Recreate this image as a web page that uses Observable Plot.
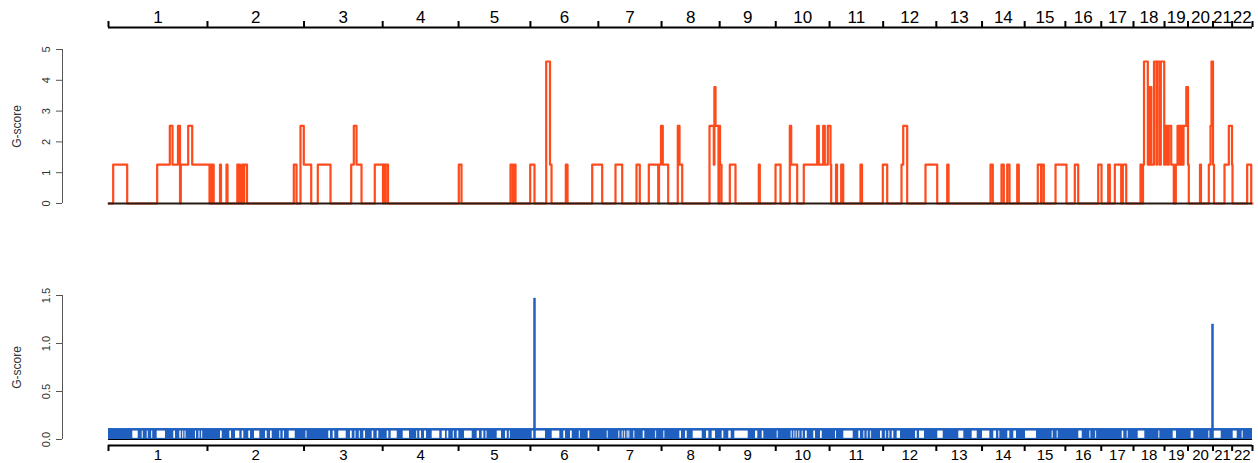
<!DOCTYPE html>
<html><head><meta charset="utf-8">
<script src="https://cdn.jsdelivr.net/npm/d3@7"></script>
<script src="https://cdn.jsdelivr.net/npm/@observablehq/plot@0.6"></script>
<style>
html,body{margin:0;padding:0;background:#fff;}
#chart{width:1258px;height:463px;overflow:hidden;font-family:"Liberation Sans",Arial,Helvetica,sans-serif;}
#chart svg{display:block;font-family:"Liberation Sans",Arial,Helvetica,sans-serif;}
</style></head><body><div id="chart"></div>
<script>
// Chromosomes (hg19 lengths, Mb)
const chromNames = ["1","2","3","4","5","6","7","8","9","10","11","12","13","14","15","16","17","18","19","20","21","22"];
const chromLengths = [249.25,243.20,198.02,191.15,180.92,171.12,159.14,146.36,141.21,135.53,135.01,133.85,115.17,107.35,102.53,90.35,81.20,78.08,59.13,63.03,48.13,51.30];

// Amplification G-score segments (genome position, Mb)
const ampStart = [11.8,122.6,154.4,161.2,175.0,182.1,200.7,210.8,256.9,262.4,280.8,297.2,324.4,328.9,336.7,341.5,466.7,483.5,491.8,527.1,611.2,617.8,624.6,670.6,692.1,698.1,
  882.2,1012.4,1021.7,1062.0,1102.3,1111.9,1151.7,1218.2,1276.8,1329.7,1360.7,1386.4,1391.4,1395.9,
  1433.7,1438.0,1513.6,1524.4,1525.9,1528.7,1538.0,1540.0,1564.7,1637.7,1679.8,1715.8,1719.3,1751.0,1784.8,1788.8,1799.9,1803.9,1811.5,1818.3,1832.2,1845.2,1893.8,1950.0,1997.1,2001.4,2057.5,2112.2,
  2221.2,2248.9,2263.3,2288.5,2340.3,2349.7,2384.9,2433.5,2492.5,2517.6,2534.3,2554.4,
  2599.0,2605.3,2607.8,2617.4,2622.2,2626.2,2633.0,2639.3,2640.8,2646.8,2650.1,2658.7,2661.9,2666.9,2670.2,2676.3,
  2687.9,2692.2,2695.9,2697.2,2700.9,2702.3,2706.0,2707.3,2714.3,2718.6,
  2748.8,2771.0,2775.3,2777.8,2781.6,2810.5,2821.4,2829.4,2867.6];
const ampEnd = [47.1,154.4,161.2,175.0,180.1,200.7,210.8,254.4,259.9,264.9,283.3,299.7,326.9,331.2,340.0,348.8,473.5,491.8,510.5,559.1,617.8,624.6,637.2,691.3,697.1,703.9,
  889.0,1018.2,1025.0,1072.8,1111.9,1115.7,1156.0,1243.3,1293.7,1338.0,1384.4,1391.4,1395.9,1409.5,
  1438.0,1444.8,1524.4,1525.9,1528.7,1536.2,1540.0,1543.8,1579.0,1640.2,1692.4,1719.3,1734.4,1784.8,1788.8,1799.9,1803.9,1811.5,1818.3,1820.0,1834.7,1850.3,1897.6,1961.1,2001.4,2011.4,2087.0,2115.5,
  2227.0,2254.7,2269.1,2292.5,2348.4,2355.5,2412.6,2442.1,2500.8,2521.7,2550.4,2563.0,
  2603.3,2607.8,2617.4,2622.2,2626.2,2633.0,2639.3,2640.8,2646.8,2650.1,2658.7,2661.9,2666.9,2670.2,2676.3,2682.8,
  2692.2,2695.9,2697.2,2700.9,2702.3,2706.0,2707.3,2714.3,2718.6,2720.6,
  2751.3,2775.3,2777.8,2781.6,2784.1,2821.4,2829.4,2830.7,2877.8];
const ampScore = [1.26,1.26,2.52,1.26,2.52,1.26,2.52,1.26,1.26,1.26,1.26,1.26,1.26,1.26,1.26,1.26,1.26,2.52,1.26,1.26,1.26,2.52,1.26,1.26,1.26,1.26,
  1.26,1.26,1.26,1.26,4.61,1.26,1.26,1.26,1.26,1.26,1.26,1.26,2.52,1.26,
  2.52,1.26,2.52,1.26,3.78,2.52,2.52,1.26,1.26,1.26,1.26,2.52,1.26,1.26,2.52,1.26,2.52,1.26,2.52,1.26,1.26,1.26,1.26,1.26,1.26,2.52,1.26,1.26,
  1.26,1.26,1.26,1.26,1.26,1.26,1.26,1.26,1.26,1.26,1.26,1.26,
  1.26,1.26,4.61,1.26,3.78,1.26,4.61,1.26,4.61,1.26,4.61,1.26,2.52,1.26,2.52,1.26,
  1.26,2.52,1.26,2.52,1.26,2.52,1.26,2.52,3.78,1.26,
  1.26,1.26,2.52,4.61,1.26,1.26,2.52,1.26,1.26];

// Deletion G-score: low background level, zero-score gaps, and peaks
const delBaseScore = 0.114;
const delGapStart = [61.2,84.9,97.5,108.8,122.6,164.5,179.6,186.9,192.7,219.1,227.9,234.7,282.1,305.5,319.8,336.7,353.3,367.7,395.4,408.0,431.4,440.0,455.1,554.8,565.9,580.0,609.5,620.8,631.6,643.0,664.1,676.7,701.9,711.9,742.2,776.2,
  784.0,795.8,815.2,840.4,853.0,868.3,878.2,896.6,928.5,941.1,950.7,978.9,999.8,1009.4,1067.0,1117.4,1146.6,1163.5,1185.7,1208.1,1346.6,1438.8,1453.1,1472.5,1506.0,1520.3,1545.5,1562.2,1577.3,1629.4,1646.3,1755.3,1776.2,
  1793.1,1830.9,1851.8,1889.6,1944.2,1973.7,1986.2,2032.4,2042.4,2088.5,2141.4,2175.1,2201.1,2229.5,2264.8,2279.9,2309.4,2443.6,2552.9,2593.2,2681.3,2726.6,2783.6,2832.4];
const delGapEnd = [74.8,87.4,100.0,111.3,143.5,168.7,183.1,189.4,195.2,221.6,230.4,237.2,286.3,309.8,330.7,340.7,357.6,381.0,399.7,412.3,433.9,443.2,470.2,559.1,569.9,598.6,613.7,623.3,634.1,647.2,668.1,680.7,705.9,727.1,758.0,778.7,
  788.3,800.9,834.3,848.7,857.0,870.9,882.2,915.9,934.3,945.2,953.2,989.7,1004.1,1011.9,1100.5,1136.6,1150.9,1167.8,1188.2,1212.1,1350.6,1443.0,1457.4,1495.2,1511.8,1528.7,1549.6,1568.2,1611.0,1635.2,1650.3,1759.6,1780.5,
  1797.4,1833.4,1875.4,1893.8,1948.5,1977.7,1994.6,2036.6,2055.0,2102.1,2154.0,2187.7,2219.5,2236.3,2269.8,2286.7,2337.1,2452.2,2556.9,2609.8,2689.7,2733.2,2802.2,2842.5];
const delThin = [497.4,1256.0,1285.1,1293.7,1299.5,1306.3,1310.3,1322.9,1377.6,1398.5,1684.1,1719.3,1725.9,1731.9,1738.4,1747.0,1902.2,1910.7,1919.0,1956.8,1965.1,2242.1,2376.6,2389.2,2471.3,2485.7,2565.5,2645.1,2771.0,2855.1];
const delPeakPos = [1072.8, 2780.3];
const delPeakScore = [1.47, 1.20];

const ampTicks = [0,1,2,3,4,5];
const delTicks = [0,0.5,1,1.5];

(function(){
// ---------- derived tables ----------
const total = d3.sum(chromLengths);
const bounds = [0, ...d3.cumsum(chromLengths)];
const chroms = chromNames.map((n,i)=>({name:n, mid:(bounds[i]+bounds[i+1])/2}));
const segs = ampStart.map((s,i)=>({s, e:ampEnd[i], v:ampScore[i]}));
const steps = [{x:0,y:0}];
let last = 0;
for (const g of segs) {
  if (g.s - last > 1e-6) steps.push({x:last, y:0});
  steps.push({x:g.s, y:g.v});
  last = g.e;
}
steps.push({x:last, y:0}, {x:total, y:0});
const gaps = delGapStart.map((s,i)=>({x1:s, x2:delGapEnd[i]}));
const peaks = delPeakPos.map((p,i)=>({x:p, y:delPeakScore[i]}));

const RED = "#ff4a1c", BLUE = "#1f5fbf";
const W = 1258;
const dataLeft = 108, dataRight = 1252, axisLeft = 62;
const mbPerPx = total / (dataRight - dataLeft);
const x0 = -(dataLeft - axisLeft) * mbPerPx;
const font = "Liberation Sans, Arial, sans-serif";

// ---------- top panel ----------
const H1 = 232, top1 = 27, zero1 = 203, pxPerUnit1 = (203-49)/5;
const yTop1 = (zero1 - top1) / pxPerUnit1;
const ampPanel = Plot.plot({
  width: W, height: H1,
  marginLeft: axisLeft, marginRight: W - dataRight, marginTop: top1, marginBottom: H1 - zero1,
  style: {fontFamily: font, background: "white"},
  x: {domain: [x0, total], axis: null},
  y: {domain: [0, yTop1], axis: null},
  marks: [
    Plot.ruleX([x0], {y1: 0, y2: 5, stroke: "#555", strokeWidth: 1}),
    Plot.axisY({ticks: ampTicks, tickSize: 6, tickFormat: () => "", stroke: "#555", label: null}),
    Plot.text(ampTicks, {x: x0, y: d => d, text: d => String(d), rotate: -90, dx: -16, fontSize: 11, fill: "#333"}),
    Plot.text(["G-score"], {x: x0, y: 2.5, text: d => d, rotate: -90, dx: -45, fontSize: 12, fill: "#333"}),
    Plot.line(steps, {x: "x", y: "y", curve: "step-after", stroke: RED, strokeWidth: 2.2}),
    Plot.ruleY([0], {x1: 0, x2: total, stroke: "#2a1a14", strokeWidth: 2}),
    Plot.ruleY([yTop1], {x1: 0, x2: total, stroke: "black", strokeWidth: 2}),
    Plot.ruleX(bounds, {y1: yTop1, y2: yTop1 + 6/pxPerUnit1, stroke: "black", strokeWidth: 2}),
    Plot.text(chroms, {x: "mid", y: yTop1, text: "name", dy: -10, fontSize: 17, fill: "black"})
  ]
});

// ---------- bottom panel ----------
const H2 = 463 - H1;
const zero2 = 439 - H1, top2 = 295 - H1, axis2 = 445 - H1;
const pxPerUnit2 = (zero2 - top2) / 1.5;
const yBot2 = -(axis2 - zero2) / pxPerUnit2;
const delPanel = Plot.plot({
  width: W, height: H2,
  marginLeft: axisLeft, marginRight: W - dataRight, marginTop: top2, marginBottom: H2 - axis2,
  style: {fontFamily: font, background: "white"},
  x: {domain: [x0, total], axis: null},
  y: {domain: [yBot2, 1.5], axis: null},
  marks: [
    Plot.ruleX([x0], {y1: 0, y2: 1.5, stroke: "#555", strokeWidth: 1}),
    Plot.axisY({ticks: delTicks, tickSize: 6, tickFormat: () => "", stroke: "#555", label: null}),
    Plot.text(delTicks, {x: x0, y: d => d, text: d => d.toFixed(1), rotate: -90, dx: -16, fontSize: 11, fill: "#333"}),
    Plot.text(["G-score"], {x: x0, y: 0.75, text: d => d, rotate: -90, dx: -45, fontSize: 12, fill: "#333"}),
    Plot.rect([{x1: 0, x2: total}], {x1: "x1", x2: "x2", y1: 0, y2: delBaseScore, fill: BLUE}),
    Plot.rect(gaps, {x1: "x1", x2: "x2", y1: 0.012, y2: 0.088, fill: "white"}),
    Plot.ruleX(delThin, {y1: 0.012, y2: 0.088, stroke: "white", strokeWidth: 1.2, strokeOpacity: 0.8}),
    Plot.ruleX(peaks, {x: "x", y1: 0, y2: "y", stroke: BLUE, strokeWidth: 2.5}),
    Plot.ruleY([0], {x1: 0, x2: total, stroke: "black", strokeWidth: 1}),
    Plot.ruleY([yBot2], {x1: 0, x2: total, stroke: "black", strokeWidth: 2}),
    Plot.ruleX(bounds, {y1: yBot2, y2: yBot2 - 6/pxPerUnit2, stroke: "black", strokeWidth: 2}),
    Plot.text(chroms, {x: "mid", y: yBot2, text: "name", dy: 14, lineAnchor: "bottom", fontSize: 15, fill: "black"})
  ]
});

document.getElementById("chart").append(ampPanel, delPanel);
})();
</script></body></html>
